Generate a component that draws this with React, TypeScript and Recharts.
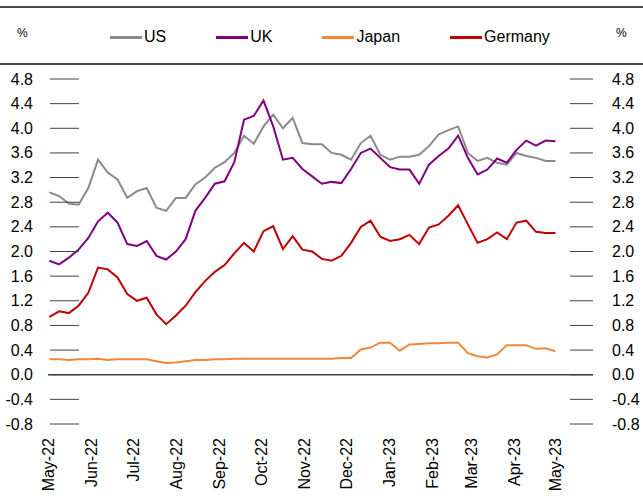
import { LineChart, Line, XAxis, YAxis, ReferenceLine } from "recharts";

// weekly observations, 10-year government bond yields (%)
const DATES = [
  "2022-05-02", "2022-05-09", "2022-05-16", "2022-05-23", "2022-05-30",
  "2022-06-06", "2022-06-13", "2022-06-20", "2022-06-27", "2022-07-04",
  "2022-07-11", "2022-07-18", "2022-07-25", "2022-08-01", "2022-08-08",
  "2022-08-15", "2022-08-22", "2022-08-29", "2022-09-05", "2022-09-12",
  "2022-09-19", "2022-09-26", "2022-10-03", "2022-10-10", "2022-10-17",
  "2022-10-24", "2022-10-31", "2022-11-07", "2022-11-14", "2022-11-21",
  "2022-11-28", "2022-12-05", "2022-12-12", "2022-12-19", "2022-12-26",
  "2023-01-02", "2023-01-09", "2023-01-16", "2023-01-23", "2023-01-30",
  "2023-02-06", "2023-02-13", "2023-02-20", "2023-02-27", "2023-03-06",
  "2023-03-13", "2023-03-20", "2023-03-27", "2023-04-03", "2023-04-10",
  "2023-04-17", "2023-04-24", "2023-05-01",
];

const US = [
  2.96, 2.9, 2.78, 2.76, 3.03, 3.49, 3.28, 3.17, 2.87, 2.98,
  3.03, 2.71, 2.66, 2.87, 2.87, 3.09, 3.2, 3.36, 3.45, 3.6,
  3.88, 3.75, 4.03, 4.22, 4.0, 4.17, 3.76, 3.74, 3.74, 3.6,
  3.57, 3.49, 3.76, 3.88, 3.57, 3.49, 3.54, 3.54, 3.57, 3.71,
  3.9, 3.97, 4.03, 3.6, 3.47, 3.52, 3.44, 3.41, 3.6, 3.55,
  3.52, 3.47, 3.47,
];

const UK = [
  1.85, 1.79, 1.9, 2.03, 2.22, 2.49, 2.63, 2.47, 2.12, 2.09,
  2.17, 1.93, 1.87, 2.0, 2.2, 2.66, 2.87, 3.1, 3.14, 3.45,
  4.14, 4.2, 4.45, 4.03, 3.49, 3.52, 3.34, 3.22, 3.1, 3.13,
  3.11, 3.34, 3.6, 3.67, 3.52, 3.37, 3.33, 3.33, 3.1, 3.41,
  3.55, 3.67, 3.88, 3.52, 3.25, 3.33, 3.51, 3.44, 3.65, 3.8,
  3.72, 3.8, 3.79,
];

const JAPAN = [
  0.25, 0.25, 0.24, 0.25, 0.25, 0.26, 0.24, 0.25, 0.25, 0.25,
  0.25, 0.22, 0.19, 0.2, 0.22, 0.24, 0.24, 0.25, 0.25, 0.26,
  0.26, 0.26, 0.26, 0.26, 0.26, 0.26, 0.26, 0.26, 0.26, 0.26,
  0.27, 0.27, 0.41, 0.44, 0.52, 0.52, 0.39, 0.49, 0.5, 0.51,
  0.51, 0.52, 0.52, 0.35, 0.3, 0.28, 0.33, 0.48, 0.48, 0.48,
  0.42, 0.43, 0.38,
];

const GERMANY = [
  0.94, 1.03, 1.0, 1.12, 1.33, 1.74, 1.71, 1.58, 1.31, 1.2,
  1.25, 0.98, 0.82, 0.96, 1.12, 1.34, 1.52, 1.67, 1.78, 1.97,
  2.14, 2.0, 2.33, 2.41, 2.04, 2.25, 2.03, 2.0, 1.88, 1.85,
  1.93, 2.14, 2.4, 2.5, 2.24, 2.17, 2.2, 2.27, 2.12, 2.39,
  2.44, 2.58, 2.75, 2.44, 2.14, 2.2, 2.31, 2.2, 2.47, 2.5,
  2.32, 2.3, 2.3,
];

const MONTH_TICKS = [
  "2022-05-01", "2022-06-01", "2022-07-01", "2022-08-01", "2022-09-01",
  "2022-10-01", "2022-11-01", "2022-12-01", "2023-01-01", "2023-02-01",
  "2023-03-01", "2023-04-01", "2023-05-01",
];

const Y_TICKS = [-0.8, -0.4, 0, 0.4, 0.8, 1.2, 1.6, 2.0, 2.4, 2.8, 3.2, 3.6, 4.0, 4.4, 4.8];

const MONTHS = ["Jan", "Feb", "Mar", "Apr", "May", "Jun", "Jul", "Aug", "Sep", "Oct", "Nov", "Dec"];

// Japan sits on the right-hand axis (same scale) so that axis gets its ticks
const SERIES = [
  { key: "us", name: "US", color: "#8a8a8a", axis: "left" },
  { key: "uk", name: "UK", color: "#800080", axis: "left" },
  { key: "japan", name: "Japan", color: "#f0883a", axis: "right" },
  { key: "germany", name: "Germany", color: "#c00000", axis: "left" },
];

const DAY = 86400000;
const X_START = Date.parse("2022-05-01");
const X_END = X_START + 392 * DAY;

const FONT = "'Liberation Sans', Arial, sans-serif";

const data = DATES.map((d, i) => ({
  t: Date.parse(d),
  us: US[i],
  uk: UK[i],
  japan: JAPAN[i],
  germany: GERMANY[i],
}));

const fmtMonth = (v: number) => {
  const d = new Date(v);
  return `${MONTHS[d.getUTCMonth()]}-${String(d.getUTCFullYear()).slice(2)}`;
};

const LeftTick = (props: any) => {
  const { x, y, payload } = props;
  return (
    <g>
      <line x1={x + 2} x2={x + 31} y1={y} y2={y} stroke="#404040" strokeWidth={1} />
      <text x={x - 15} y={y} dy={5.5} textAnchor="end" fontSize={16} fontFamily={FONT} fill="#000">
        {Number(payload.value).toFixed(1)}
      </text>
    </g>
  );
};

const RightTick = (props: any) => {
  const { x, y, payload } = props;
  return (
    <g>
      <line x1={x - 23} x2={x} y1={y} y2={y} stroke="#404040" strokeWidth={1} />
      <text x={x + 19} y={y} dy={5.5} textAnchor="start" fontSize={16} fontFamily={FONT} fill="#000">
        {Number(payload.value).toFixed(1)}
      </text>
    </g>
  );
};

const DateTick = (props: any) => {
  const { x, y, payload } = props;
  const ty = y + 14;
  return (
    <text
      x={x}
      y={ty}
      dy={6}
      transform={`rotate(-90 ${x} ${ty})`}
      textAnchor="end"
      fontSize={16}
      fontFamily={FONT}
      fill="#000"
    >
      {fmtMonth(payload.value)}
    </text>
  );
};

export default function App() {
  return (
    <div style={{ position: "absolute", left: 0, top: 0, width: 643, height: 499, background: "#fff", fontFamily: FONT }}>
      {/* rules above / below the legend */}
      <div style={{ position: "absolute", left: 0, top: 6, width: 643, height: 2, background: "#4a4a4a" }} />
      <div style={{ position: "absolute", left: 0, top: 63, width: 643, height: 2, background: "#4a4a4a" }} />

      <div style={{ position: "absolute", left: 17, top: 26, fontSize: 12 }}>%</div>
      <div style={{ position: "absolute", left: 616, top: 26, fontSize: 12 }}>%</div>

      {/* Legend */}
      <div style={{ position: "absolute", left: 110, top: 27, display: "flex", gap: 50, alignItems: "center" }}>
        {SERIES.map((s) => (
          <div key={s.key} style={{ display: "flex", alignItems: "center", gap: 2 }}>
            <div style={{ width: 32, height: 3, background: s.color }} />
            <span style={{ fontSize: 16, lineHeight: "20px" }}>{s.name}</span>
          </div>
        ))}
      </div>

      <div style={{ position: "absolute", left: 0, top: 0 }}>
        <LineChart width={643} height={499} data={data} margin={{ top: 79, right: 0, bottom: 0, left: 0 }}>
          <XAxis
            dataKey="t"
            type="number"
            domain={[X_START, X_END]}
            ticks={MONTH_TICKS.map((m) => Date.parse(m))}
            tick={<DateTick />}
            axisLine={false}
            tickLine={false}
            tickSize={0}
            tickMargin={0}
            height={75}
            interval={0}
            allowDataOverflow
          />
          <YAxis
            yAxisId="left"
            orientation="left"
            type="number"
            domain={[-0.8, 4.8]}
            ticks={Y_TICKS}
            tick={<LeftTick />}
            axisLine={false}
            tickLine={false}
            tickSize={0}
            tickMargin={0}
            width={48}
            interval={0}
            allowDataOverflow
          />
          <YAxis
            yAxisId="right"
            orientation="right"
            type="number"
            domain={[-0.8, 4.8]}
            ticks={Y_TICKS}
            tick={<RightTick />}
            axisLine={false}
            tickLine={false}
            tickSize={0}
            tickMargin={0}
            width={50}
            interval={0}
            allowDataOverflow
          />
          <ReferenceLine yAxisId="left" y={0} stroke="#404040" strokeWidth={1.5} />
          {SERIES.map((s) => (
            <Line
              key={s.key}
              yAxisId={s.axis}
              type="linear"
              dataKey={s.key}
              name={s.name}
              stroke={s.color}
              strokeWidth={2}
              dot={false}
              isAnimationActive={false}
            />
          ))}
        </LineChart>
      </div>
    </div>
  );
}
